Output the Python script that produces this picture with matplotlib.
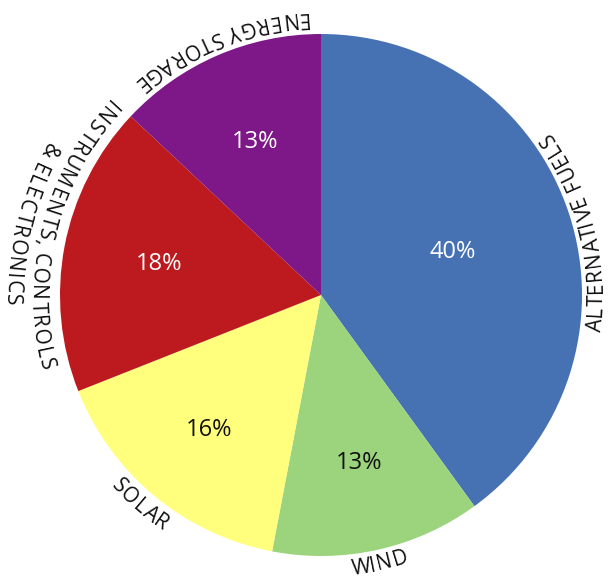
import math

import matplotlib.pyplot as plt
from matplotlib.font_manager import FontProperties, findfont, get_font
from matplotlib.ft2font import Kerning, LoadFlags

categories = ["ALTERNATIVE FUELS", "WIND", "SOLAR",
              "INSTRUMENTS, CONTROLS\n& ELECTRONICS", "ENERGY STORAGE"]
shares = [40, 13, 16, 18, 13]
colors = ["#4672B4", "#9BD47D", "#FFFF7D", "#BD1A1F", "#7E1888"]
pct_colors = ["white", "#111111", "#111111", "white", "white"]

FONT = "Open Sans"
W, H = 608, 580
CX, CY, R = 321, H - 295, 261

fig = plt.figure(figsize=(W / 100, H / 100), dpi=100)
ax = fig.add_axes([0, 0, 1, 1])

wedges, _ = ax.pie(shares, colors=colors, startangle=90, counterclock=False,
                   center=(CX, CY), radius=R,
                   wedgeprops=dict(linewidth=0))
ax.set_xlim(0, W)
ax.set_ylim(0, H)
ax.set_aspect("equal")
ax.axis("off")


def glyph_layout(s, prop):
    """Ink centre and left bearing of every char, plus total advance, in px."""
    font = get_font(findfont(prop))
    font.set_size(prop.get_size_in_points(), 100)
    x, prev, centres, bearings = 0.0, None, [], []
    for c in s:
        idx = font.get_char_index(ord(c))
        if prev is not None:
            x += font.get_kerning(prev, idx, Kerning.DEFAULT) / 64
        g = font.load_glyph(idx, flags=LoadFlags.NO_HINTING)
        x0, _, x1, _ = g.bbox
        centres.append(x + (x0 + x1) / 128)
        bearings.append(x0 / 64)
        x += g.linearHoriAdvance / 65536
        prev = idx
    return centres, bearings, x


def arc_text(s, mid_deg, r_mid, size, track=1.0):
    prop = FontProperties(family=FONT, size=size)
    px = size * 100 / 72
    r_base = r_mid + 0.36 * px
    centres, bearings, total = glyph_layout(s, prop)
    total *= track
    a0 = math.radians(mid_deg) - total / (2 * r_mid)
    for c, xc, lb in zip(s, centres, bearings):
        if c == " ":
            continue
        ang = a0 + xc * track / r_mid
        # agg adds the glyph bearing along screen x even for rotated text
        ax.text(CX + r_base * math.cos(ang) - lb, CY + r_base * math.sin(ang), c,
                rotation=math.degrees(ang) + 90, rotation_mode="anchor",
                ha="center", va="baseline", fontproperties=prop, color="#111111")


# percentages inside the wedges, outer labels along the rim
pct_dist = [0.53, 0.66, 0.67, 0.63, 0.64]
label_shift = [-4, 0, -1, -3, -1.5]
label_gap = [14, 13, 15, 20, 15]
label_track = [1.06, 1.06, 1.06, 1.1, 1.08]
for w, name, val, pc, d, sh, gap, tr in zip(wedges, categories, shares, pct_colors,
                                            pct_dist, label_shift, label_gap,
                                            label_track):
    mid = (w.theta1 + w.theta2) / 2
    t = math.radians(mid)
    ax.text(CX + d * R * math.cos(t), CY + d * R * math.sin(t), f"{val}%",
            ha="center", va="center", fontsize=17, family=FONT, color=pc)
    for i, line in enumerate(name.split("\n")):
        arc_text(line, mid + sh, R + gap + 25 * i, 15, track=tr)

fig.savefig("out.png", dpi=100)
